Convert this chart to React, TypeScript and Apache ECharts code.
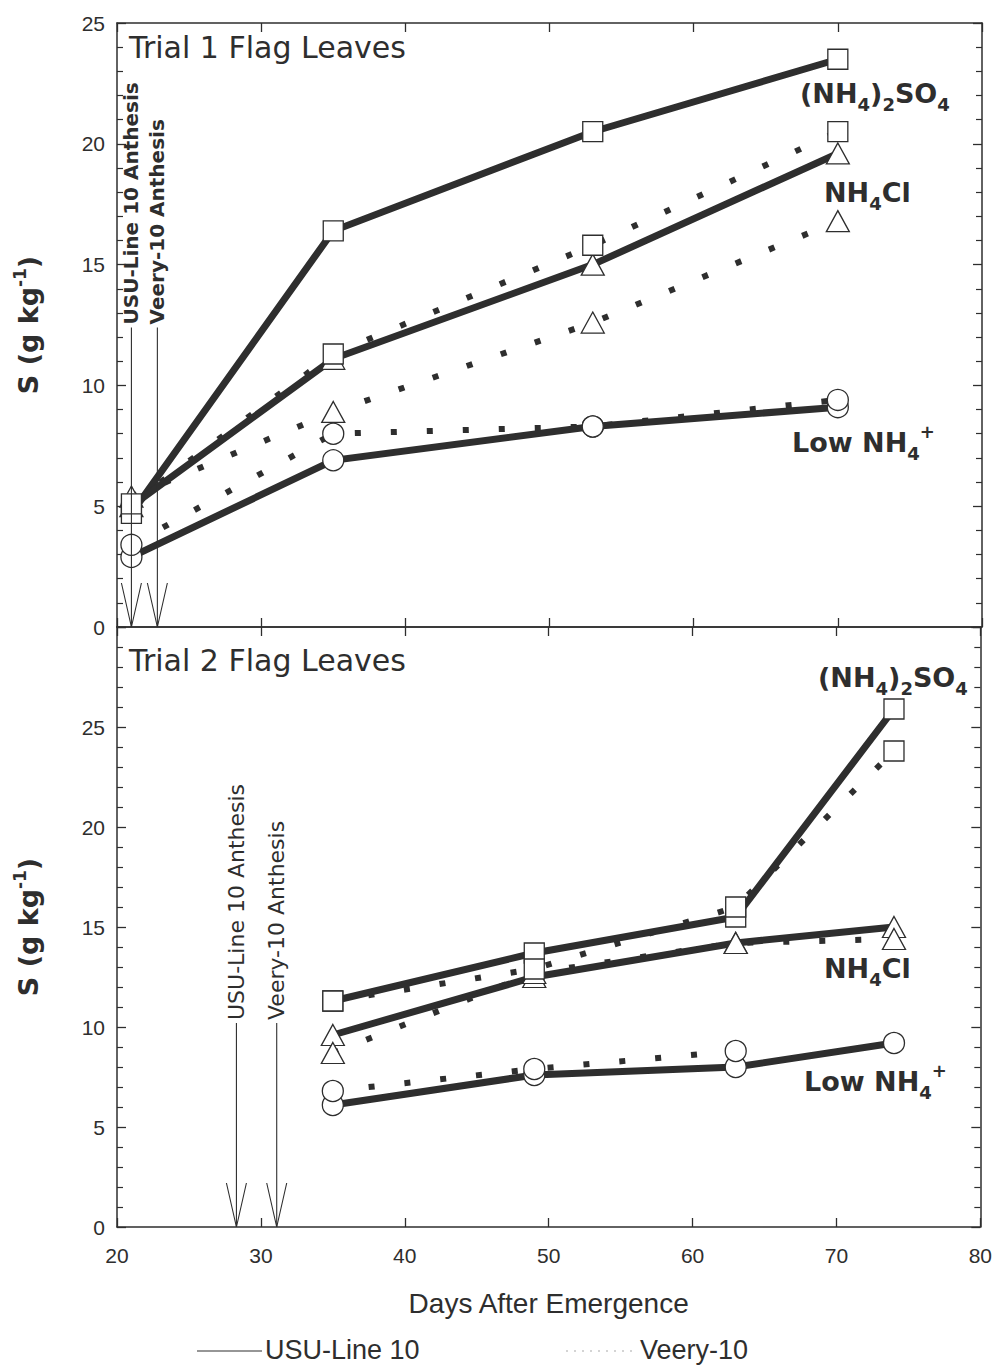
import React, { useEffect, useRef } from "react";
import * as echarts from "echarts";

// ---------- data ----------
// Trial 1 (top panel)
const days1 = [21, 35, 53, 70];
const usuSO4_1 = [4.7, 16.4, 20.5, 23.5];
const usuCl_1 = [5.0, 11.1, 15.0, 19.6];
const usuLow_1 = [2.9, 6.9, 8.3, 9.1];
const veSO4_1 = [5.1, 11.3, 15.8, 20.5];
const veCl_1 = [5.4, 8.9, 12.6, 16.8];
const veLow_1 = [3.4, 8.0, 8.3, 9.4];

// Trial 2 (bottom panel)
const days2 = [35, 49, 63, 74];
const usuSO4_2 = [11.3, 13.7, 15.5, 25.9];
const usuCl_2 = [9.6, 12.5, 14.2, 15.0];
const usuLow_2 = [6.1, 7.6, 8.0, 9.2];
const veSO4_2 = [11.3, 12.9, 16.0, 23.8];
const veCl_2 = [8.7, 12.7, 14.2, 14.4];
const veLow_2 = [6.8, 7.9, 8.8, null];

// anthesis dates (days after emergence) and where the vertical labels end
const anthesis1 = [
  { day: 21.0, label: "USU-Line 10 Anthesis" },
  { day: 22.8, label: "Veery-10 Anthesis" },
];
const anthesis2 = [
  { day: 28.3, label: "USU-Line 10 Anthesis" },
  { day: 31.1, label: "Veery-10 Anthesis" },
];
const anthesisBase1 = 12.4;
const anthesisBase2 = 10.2;

// axes
const xMin = 20, xMax = 80, xStep = 10;
const y1Min = 0, y1Max = 25, y2Min = 0, y2Max = 30, yStep = 5;

const titles = ["Trial 1 Flag Leaves", "Trial 2 Flag Leaves"];
const xName = "Days After Emergence";
const legendNames = ["USU-Line 10", "Veery-10"];

// ---------- styles ----------
const INK = "#2e2e2e";
const TICK_FONT = "Liberation Sans";
const LABEL_FONT = "DejaVu Sans";

const pairs = (d: number[], v: (number | null)[]) =>
  d.map((x, i) => (v[i] == null ? null : [x, v[i] as number])).filter((p) => p !== null);

function axisCommon() {
  return {
    type: "value",
    splitLine: { show: false },
    axisLine: { show: true, onZero: false, lineStyle: { color: INK, width: 1.5 } },
    axisTick: { show: true, inside: true, length: 9, lineStyle: { color: INK, width: 1.3 } },
  };
}

function xAxes(grid: number, showLabels: boolean) {
  const base = { ...axisCommon(), gridIndex: grid, min: xMin, max: xMax, interval: xStep };
  return [
    {
      ...base,
      position: "bottom",
      axisLabel: {
        show: showLabels,
        fontFamily: TICK_FONT,
        fontSize: 21,
        color: INK,
        margin: 18,
      },
      name: showLabels ? xName : "",
      nameLocation: "middle",
      nameGap: 62,
      nameTextStyle: { fontFamily: TICK_FONT, fontSize: 28, color: INK },
    },
    { ...base, position: "top", axisLabel: { show: false } },
  ];
}

function yAxes(grid: number, max: number) {
  const base = {
    ...axisCommon(),
    gridIndex: grid,
    min: grid === 0 ? y1Min : y2Min,
    max,
    interval: yStep,
    minorTick: { show: true, splitNumber: 5, length: 6, lineStyle: { color: INK, width: 1.2 } },
  };
  return [
    {
      ...base,
      position: "left",
      axisLabel: {
        show: true,
        fontFamily: TICK_FONT,
        fontSize: 21,
        color: INK,
        margin: 12,
        showMaxLabel: grid === 0,
      },
      name: "{b|S (g kg}{p|-1}{b|)}",
      nameLocation: "middle",
      nameRotate: 90,
      nameGap: 72,
      nameTextStyle: {
        rich: {
          b: { fontFamily: LABEL_FONT, fontWeight: "bold", fontSize: 27, color: INK, lineHeight: 34 },
          p: { fontFamily: LABEL_FONT, fontWeight: "bold", fontSize: 17, color: INK, lineHeight: 10, verticalAlign: "top" },
        },
      },
    },
    { ...base, position: "right", axisLabel: { show: false } },
  ];
}

const solid = (grid: number, data: any[]) => ({
  type: "line",
  xAxisIndex: grid * 2,
  yAxisIndex: grid * 2,
  data,
  symbol: "none",
  silent: true,
  z: 3,
  lineStyle: { color: INK, width: 7, cap: "butt", join: "miter" },
});

const dotted = (grid: number, data: any[]) => ({
  type: "line",
  xAxisIndex: grid * 2,
  yAxisIndex: grid * 2,
  data,
  symbol: "none",
  silent: true,
  z: 2,
  lineStyle: { color: INK, width: 6, type: [6, 30], cap: "butt" },
});

const marks = (grid: number, data: any[], symbol: string, size: number | number[]) => ({
  type: "scatter",
  xAxisIndex: grid * 2,
  yAxisIndex: grid * 2,
  data,
  symbol,
  symbolSize: size,
  silent: true,
  z: 5,
  itemStyle: { color: "#ffffff", borderColor: INK, borderWidth: 1.3, opacity: 1 },
});

function panelSeries(
  grid: number,
  days: number[],
  uSO4: (number | null)[],
  uCl: (number | null)[],
  uLow: (number | null)[],
  vSO4: (number | null)[],
  vCl: (number | null)[],
  vLow: (number | null)[]
) {
  const d = {
    uSO4: pairs(days, uSO4),
    uCl: pairs(days, uCl),
    uLow: pairs(days, uLow),
    vSO4: pairs(days, vSO4),
    vCl: pairs(days, vCl),
    vLow: pairs(days, vLow),
  };
  return [
    dotted(grid, d.vSO4),
    dotted(grid, d.vCl),
    dotted(grid, d.vLow),
    solid(grid, d.uSO4),
    solid(grid, d.uCl),
    solid(grid, d.uLow),
    marks(grid, d.uCl, "triangle", [23, 21]),
    marks(grid, d.vCl, "triangle", [23, 21]),
    marks(grid, d.uLow, "circle", 21),
    marks(grid, d.vLow, "circle", 21),
    marks(grid, d.uSO4, "rect", 20),
    marks(grid, d.vSO4, "rect", 20),
  ];
}

const chemRich = {
  n: { fontFamily: LABEL_FONT, fontWeight: "bold", fontSize: 27, fill: INK, color: INK, lineHeight: 40, verticalAlign: "middle" },
  s: { fontFamily: LABEL_FONT, fontWeight: "bold", fontSize: 18, fill: INK, color: INK, lineHeight: 20, verticalAlign: "bottom" },
  p: { fontFamily: LABEL_FONT, fontWeight: "bold", fontSize: 18, fill: INK, color: INK, lineHeight: 10, verticalAlign: "top" },
};

const SO4_TEXT = "{n|(NH}{s|4}{n|)}{s|2}{n|SO}{s|4}";
const CL_TEXT = "{n|NH}{s|4}{n|Cl}";
const LOW_TEXT = "{n|Low NH}{s|4}{p|+}";

const annotations = [
  { text: SO4_TEXT, x: 800, y: 93 },
  { text: CL_TEXT, x: 824, y: 192 },
  { text: LOW_TEXT, x: 792, y: 442 },
  { text: SO4_TEXT, x: 818, y: 677 },
  { text: CL_TEXT, x: 824, y: 968 },
  { text: LOW_TEXT, x: 804, y: 1081 },
];

function richText(t: string, x: number, y: number) {
  return {
    type: "text",
    x,
    y,
    silent: true,
    z: 10,
    style: { text: t, rich: chemRich, align: "left", verticalAlign: "middle", textAlign: "left", textVerticalAlign: "middle" },
  };
}

function plainText(t: string, x: number, y: number, size: number, family: string, weight: string, rotation = 0) {
  return {
    type: "text",
    x,
    y,
    rotation,
    silent: true,
    z: 10,
    style: {
      text: t,
      fontFamily: family,
      fontSize: size,
      fontWeight: weight,
      fill: INK,
      align: "left",
      verticalAlign: "middle",
      textAlign: "left",
      textVerticalAlign: "middle",
    },
  };
}

export default function App() {
  const ref = useRef<HTMLDivElement>(null);

  useEffect(() => {
    document.body.style.margin = "0";
    const chart = echarts.init(ref.current!, null, { renderer: "svg" });
    const series = [
      ...panelSeries(0, days1, usuSO4_1, usuCl_1, usuLow_1, veSO4_1, veCl_1, veLow_1),
      ...panelSeries(1, days2, usuSO4_2, usuCl_2, usuLow_2, veSO4_2, veCl_2, veLow_2),
    ];
    chart.setOption({
      animation: false,
      backgroundColor: "#ffffff",
      grid: [
        { left: 117, top: 23, width: 865, height: 604 },
        { left: 117, top: 627, width: 865, height: 600 },
      ],
      xAxis: [...xAxes(0, false), ...xAxes(1, true)],
      yAxis: [...yAxes(0, y1Max), ...yAxes(1, y2Max)],
      series,
    } as any);

    const toPx = (si: number, d: number, v: number) =>
      chart.convertToPixel({ seriesIndex: si } as any, [d, v]) as number[];

    const graphics: any[] = [];
    const addAnthesis = (si: number, list: { day: number; label: string }[], base: number, bold: boolean, size: number) => {
      list.forEach((a) => {
        const [x, yTop] = toPx(si, a.day, base);
        const [, y0] = toPx(si, a.day, 0);
        graphics.push({
          type: "line",
          silent: true,
          z: 8,
          shape: { x1: x, y1: yTop, x2: x, y2: y0 },
          style: { stroke: INK, lineWidth: 1.1 },
        });
        graphics.push({
          type: "polyline",
          silent: true,
          z: 8,
          shape: { points: [[x - 10, y0 - 44], [x, y0], [x + 10, y0 - 44]] },
          style: { stroke: INK, lineWidth: 1.1, fill: null },
        });
        graphics.push(plainText(a.label, x, yTop - 3, size, LABEL_FONT, bold ? "bold" : "normal", Math.PI / 2));
      });
    };
    addAnthesis(0, anthesis1, anthesisBase1, true, 20);
    addAnthesis(12, anthesis2, anthesisBase2, false, 22);

    graphics.push(plainText(titles[0], 129, 47, 30, LABEL_FONT, "normal"));
    graphics.push(plainText(titles[1], 129, 660, 30, LABEL_FONT, "normal"));
    annotations.forEach((a) => graphics.push(richText(a.text, a.x, a.y)));

    // legend
    graphics.push({
      type: "line",
      silent: true,
      shape: { x1: 197, y1: 1351, x2: 262, y2: 1351 },
      style: { stroke: INK, lineWidth: 1.2 },
    });
    graphics.push(plainText(legendNames[0], 265, 1350, 27, TICK_FONT, "normal"));
    graphics.push({
      type: "line",
      silent: true,
      shape: { x1: 566, y1: 1351, x2: 632, y2: 1351 },
      style: { stroke: "#aaaaaa", lineWidth: 1.2, lineDash: [2, 6] },
    });
    graphics.push(plainText(legendNames[1], 640, 1350, 27, TICK_FONT, "normal"));

    chart.setOption({ graphic: graphics } as any);

    return () => chart.dispose();
  }, []);

  return <div ref={ref} style={{ width: 995, height: 1370 }} />;
}
